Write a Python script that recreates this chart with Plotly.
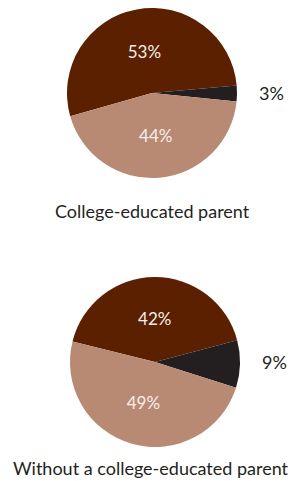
import plotly.graph_objects as go

# Data
slice_labels = ["Share A", "Share B", "Share C"]
college_values = [53, 3, 44]
no_college_values = [42, 9, 49]
group_titles = ["College-educated parent", "Without a college-educated parent"]
colors = ["#5a2000", "#231f20", "#b88a74"]

FONT = "Lato, 'Open Sans', sans-serif"
W, H = 302, 481

def px_x(x):
    return x / W

def px_y(y):
    return 1 - y / H

fig = go.Figure()

def add_pie(values, cx, cy, r, rotation):
    fig.add_trace(go.Pie(
        labels=slice_labels,
        values=values,
        sort=False,
        direction="clockwise",
        rotation=rotation,
        marker=dict(colors=colors, line=dict(width=0)),
        texttemplate=["%{value}%", "", "%{value}%"],
        textinfo="text",
        textposition="inside",
        insidetextorientation="horizontal",
        insidetextfont=dict(family=FONT, size=17, color="#f7efea"),
        showlegend=False,
        hoverinfo="label+value",
        domain=dict(x=[px_x(cx - r), px_x(cx + r)], y=[px_y(cy + r), px_y(cy - r)]),
    ))

add_pie(college_values, 152, 93, 85, 254.2)
add_pie(no_college_values, 155, 362, 85, 284)

def ann(text, x, y):
    return dict(text=text, x=px_x(x), y=px_y(y), xref="paper", yref="paper",
                xanchor="center", yanchor="middle", showarrow=False,
                font=dict(family=FONT, size=18, color="#231f20"))

annotations = [
    ann(f"{college_values[1]}%", 271, 93),
    ann(f"{no_college_values[1]}%", 274, 362),
    ann(group_titles[0], 152, 211),
    ann(group_titles[1], 151, 468),
]

fig.update_layout(
    width=W, height=H,
    margin=dict(l=0, r=0, t=0, b=0),
    paper_bgcolor="white",
    plot_bgcolor="white",
    annotations=annotations,
)

fig.write_html("out.html", config={"displayModeBar": False},
               post_script="document.body.style.margin='0';document.body.style.overflow='hidden';")
